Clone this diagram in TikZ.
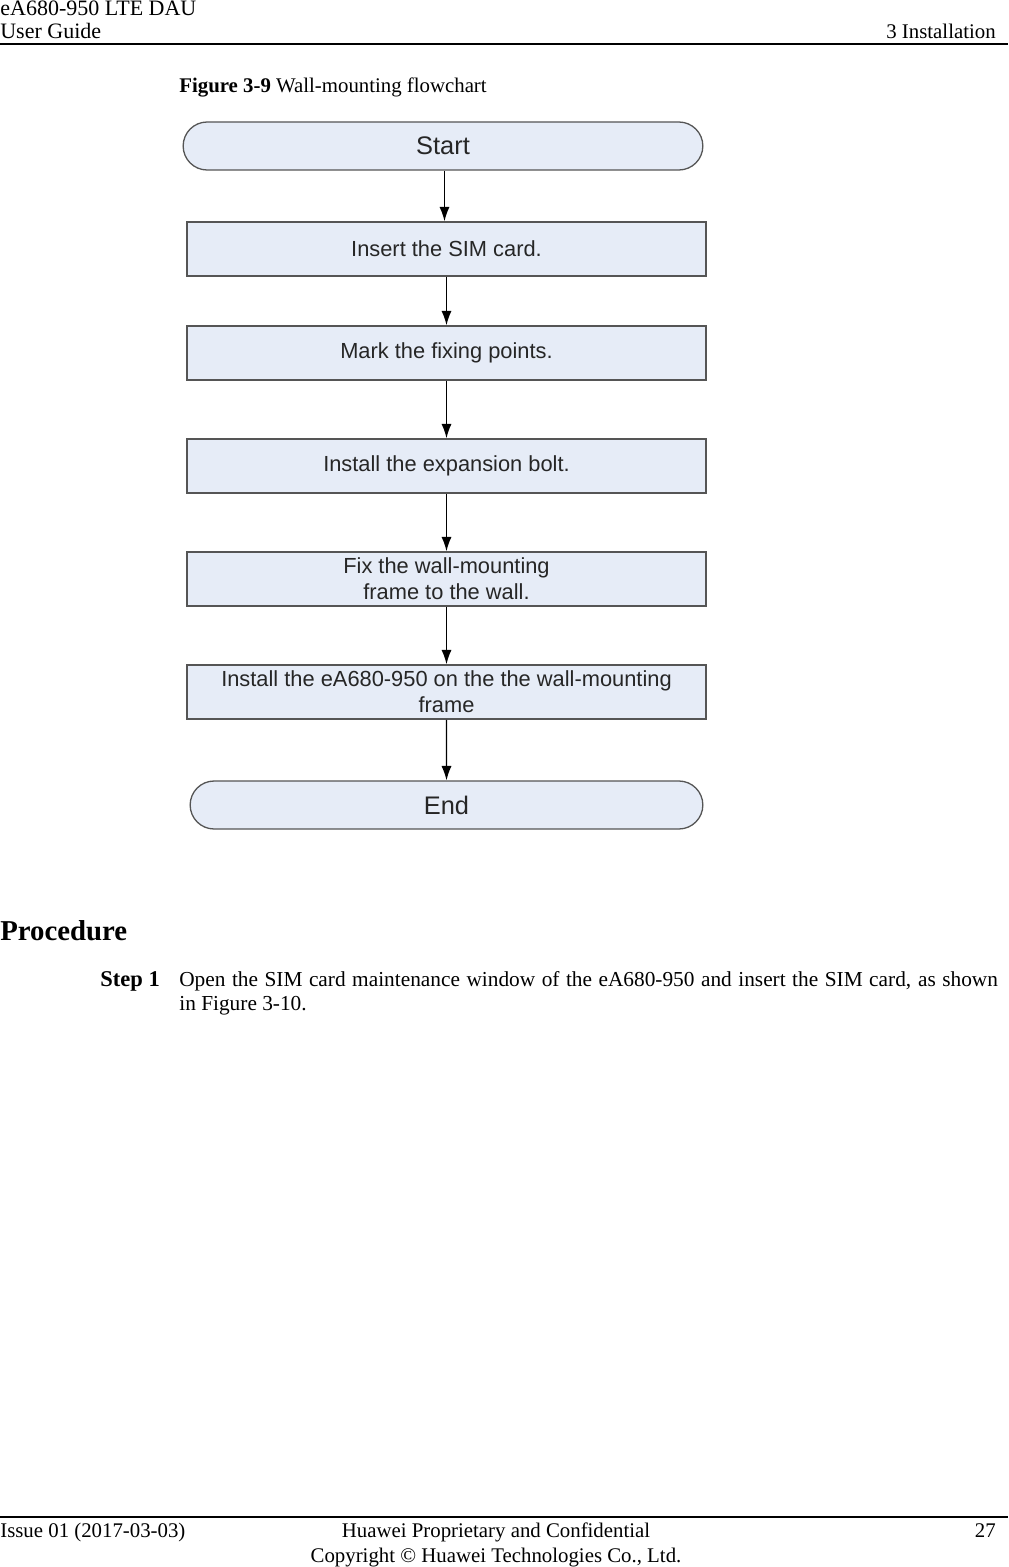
\documentclass[tikz,border=0pt]{standalone}
\usepackage{fontspec}
\setmainfont{Liberation Serif}
\newfontfamily\flowfont{Liberation Sans}
\usetikzlibrary{arrows.meta,shapes.misc}
\definecolor{boxfill}{RGB}{230,236,247}
\definecolor{boxline}{RGB}{85,85,85}
\def\px{0.5906pt}
\tikzset{
  txt/.style={inner sep=0pt, anchor=base west, font=\fontsize{12.3}{14}\selectfont},
  termnode/.style={rounded rectangle, draw=boxline, line width=1.3*\px, fill=boxfill,
    minimum height=48*\px, font=\flowfont\fontsize{15}{18}\selectfont, text=black!85},
  procbox/.style={rectangle, draw=boxline, line width=1.5*\px, fill=boxfill,
    minimum width=519*\px, minimum height=54*\px, align=center, inner sep=0pt,
    font=\flowfont\fontsize{12.9}{15.5}\selectfont, text=black!85},
  flowarrow/.style={-{Latex[length=8.5pt,width=6pt]}, line width=0.8pt, black}
}
\begin{document}
\begin{tikzpicture}[x=\px, y=-\px]
		%%%%% START %%%%%
		\useasboundingbox (0,0) rectangle (1008,1567);
		
		% header
		\node[txt, font=\fontsize{13}{15}\selectfont] (hdA) at (0,16) {eA680-950 LTE DAU};
		\node[txt, font=\fontsize{13}{15}\selectfont] (hdB) at (0,39) {User Guide};
		\node[txt, anchor=base east] (hdC) at (996,39) {3 Installation};
		\draw[line width=1.5*\px] (0,44) -- (1008,44);
		
		\node[txt] (cap) at (179,93) {\textbf{Figure 3-9} Wall-mounting flowchart};
		
		% flowchart
		\node[termnode, minimum width=531*\px] (start) at (443,146) {Start};
		\node[procbox] (sim) at (446.5,249) {Insert the SIM card.};
		\node[procbox] (mark) at (446.5,353) {Mark the fixing points.};
		\node[procbox] (bolt) at (446.5,466) {Install the expansion bolt.};
		\node[procbox] (frame) at (446.5,579) {Fix the wall-mounting\\frame to the wall.};
		\node[procbox] (dau) at (446.5,692) {Install the eA680-950 on the the wall-mounting\\frame};
		\node[termnode, minimum width=524*\px] (end) at (446.5,805) {End};
		
		\draw[flowarrow] (start.south -| 444.5,0) -- (sim.north -| 444.5,0);
		\draw[flowarrow] (sim) -- (mark);
		\draw[flowarrow] (mark) -- (bolt);
		\draw[flowarrow] (bolt) -- (frame);
		\draw[flowarrow] (frame) -- (dau);
		\draw[flowarrow] (dau) -- (end);
		
		% procedure
		\node[txt, font=\bfseries\fontsize{17}{20}\selectfont] (proc) at (0,940) {Procedure};
		\node[txt, font=\bfseries\fontsize{13.3}{15}\selectfont] (stp) at (100,986) {Step 1};
		\node[txt, font=\fontsize{12.6}{14}\selectfont] (stpA) at (179,986) {\hbox to 483.5pt{Open the SIM card maintenance window of the eA680-950 and insert the SIM card, as shown}};
		\node[txt, font=\fontsize{12.6}{14}\selectfont] (stpB) at (179,1010) {in Figure 3-10.};
		
		% footer
		\draw[line width=1.5*\px] (0,1517) -- (1008,1517);
		\node[txt] (ftA) at (0,1537) {Issue 01 (2017-03-03)};
		\node[txt, anchor=base] (ftB) at (496,1537) {Huawei Proprietary and Confidential};
		\node[txt, anchor=base] (ftC) at (496,1562) {Copyright \textcopyright{} Huawei Technologies Co., Ltd.};
		\node[txt, anchor=base east] (ftD) at (996,1537) {27};
		%%%%% END %%%%%
	\end{tikzpicture}
\end{document}
